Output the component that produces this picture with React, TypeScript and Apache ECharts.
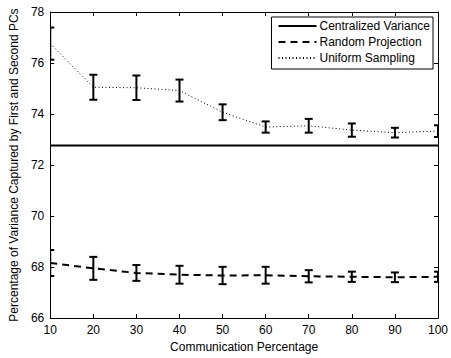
import React, { useEffect, useRef } from "react";
import * as echarts from "echarts";

const commPct = [10, 20, 30, 40, 50, 60, 70, 80, 90, 100];
const centralized = [72.77, 72.77, 72.77, 72.77, 72.77, 72.77, 72.77, 72.77, 72.77, 72.77];
const randomMean = [68.16, 67.95, 67.77, 67.7, 67.67, 67.68, 67.64, 67.62, 67.6, 67.62];
const randomErr = [0.51, 0.45, 0.31, 0.35, 0.34, 0.33, 0.24, 0.2, 0.19, 0.2];
const uniformMean = [76.76, 75.05, 75.03, 74.92, 74.07, 73.49, 73.54, 73.37, 73.27, 73.33];
const uniformErr = [0.63, 0.49, 0.48, 0.43, 0.31, 0.22, 0.27, 0.26, 0.19, 0.23];
const yTicks = { min: 66, max: 78, interval: 2 };
const xTicks = { min: 10, max: 100, interval: 10 };

const FONT = "Liberation Sans";

function errorSeries(mean: number[], err: number[]) {
  return {
    type: "custom",
    silent: true,
    z: 5,
    data: commPct.map((x, i) => [x, mean[i] - err[i], mean[i] + err[i]]),
    renderItem: (params: any, api: any) => {
      const x = api.value(0);
      const lo = api.coord([x, api.value(1)]);
      const hi = api.coord([x, api.value(2)]);
      const cs = params.coordSys;
      const hw = 4;
      const lw = 2;
      const rects = [
        { x: lo[0] - lw / 2, y: hi[1], width: lw, height: lo[1] - hi[1] },
        { x: lo[0] - hw, y: hi[1] - lw / 2, width: hw * 2, height: lw },
        { x: lo[0] - hw, y: lo[1] - lw / 2, width: hw * 2, height: lw },
      ];
      const children = rects
        .map((r) => echarts.graphic.clipRectByRect(r, cs))
        .filter((r) => r)
        .map((r) => ({ type: "rect", shape: r, style: { fill: "#000" } }));
      return { type: "group", children };
    },
  };
}

export default function App() {
  const ref = useRef<HTMLDivElement>(null);
  useEffect(() => {
    const chart = echarts.init(ref.current!, null, { renderer: "svg" });
    const axisCommon = {
      axisLine: { show: true, lineStyle: { color: "#000", width: 1 } },
      axisTick: { show: true, inside: true, length: 4, lineStyle: { color: "#000" } },
      splitLine: { show: false },
    };
    chart.setOption({
      animation: false,
      backgroundColor: "#fff",
      textStyle: { fontFamily: FONT },
      grid: { left: 44, right: 10, top: 12, bottom: 34, containLabel: false },
      legend: {
        right: 18,
        top: 17,
        orient: "vertical",
        itemWidth: 38,
        itemHeight: 12,
        itemGap: 4,
        padding: [3, 3, 5, 6],
        borderColor: "#000",
        borderWidth: 1,
        borderRadius: 0,
        backgroundColor: "#fff",
        itemStyle: { opacity: 0 },
        textStyle: { fontFamily: FONT, fontSize: 12, color: "#000", padding: [0, 0, 0, -2] },
        data: ["Centralized Variance", "Random Projection", "Uniform Sampling"],
      },
      xAxis: [
        {
          type: "value",
          ...xTicks,
          position: "bottom",
          ...axisCommon,
          axisLabel: { color: "#000", fontSize: 12, fontFamily: FONT, margin: 6 },
          name: "Communication Percentage",
          nameLocation: "middle",
          nameGap: 20,
          nameTextStyle: { color: "#000", fontSize: 12, fontFamily: FONT },
        },
        {
          type: "value",
          ...xTicks,
          position: "top",
          ...axisCommon,
          axisLabel: { show: false },
        },
      ],
      yAxis: [
        {
          type: "value",
          ...yTicks,
          position: "left",
          ...axisCommon,
          axisLabel: { color: "#000", fontSize: 12, fontFamily: FONT, margin: 6 },
          name: "Percentage of Variance Captured by First and Second PCs",
          nameLocation: "middle",
          nameGap: 30,
          nameTextStyle: { color: "#000", fontSize: 12, fontFamily: FONT },
        },
        {
          type: "value",
          ...yTicks,
          position: "right",
          ...axisCommon,
          axisLabel: { show: false },
        },
      ],
      series: [
        {
          name: "Centralized Variance",
          type: "line",
          data: commPct.map((x, i) => [x, centralized[i]]),
          symbol: "none",
          lineStyle: { color: "#000", width: 2, type: "solid" },
          itemStyle: { color: "#000" },
          z: 3,
        },
        {
          name: "Random Projection",
          type: "line",
          data: commPct.map((x, i) => [x, randomMean[i]]),
          symbol: "none",
          lineStyle: { color: "#000", width: 2, type: [7, 5] },
          itemStyle: { color: "#000" },
          z: 3,
        },
        {
          name: "Uniform Sampling",
          type: "line",
          data: commPct.map((x, i) => [x, uniformMean[i]]),
          symbol: "none",
          lineStyle: { color: "#000", width: 1, type: [1, 2.5] },
          itemStyle: { color: "#000" },
          z: 3,
        },
        errorSeries(randomMean, randomErr),
        errorSeries(uniformMean, uniformErr),
      ],
    });
    return () => chart.dispose();
  }, []);
  return <div ref={ref} style={{ width: 451, height: 358, position: "absolute", left: 0, top: 0 }} />;
}
